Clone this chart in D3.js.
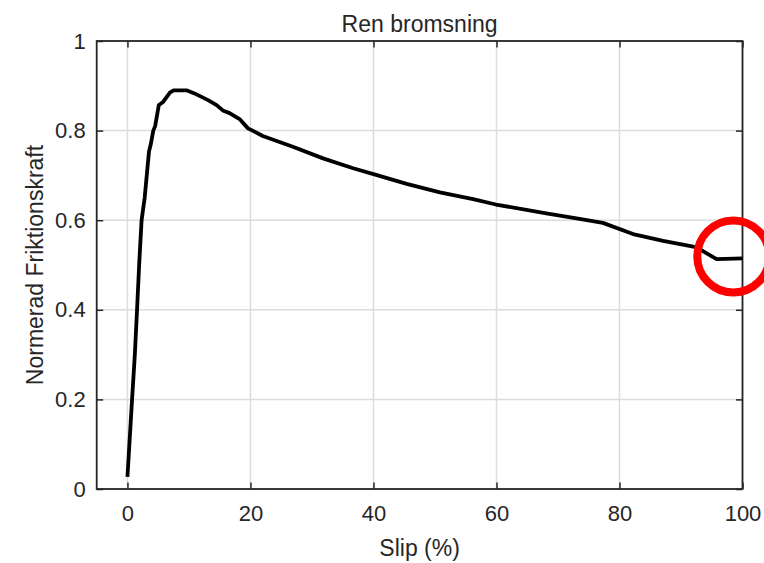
<!DOCTYPE html>
<html>
<head>
<meta charset="utf-8">
<script src="https://cdn.jsdelivr.net/npm/d3@7"></script>
<style>
  html, body { margin: 0; padding: 0; background: #fff; }
  svg { display: block; }
  text { font-family: "Liberation Sans", Arial, Helvetica, sans-serif; fill: #262626; }
</style>
</head>
<body>
<svg id="chart" width="764" height="563"></svg>
<script>
// ---- Data ----
const slip  = [0, 0.75, 1.2, 1.56, 1.9, 2.3, 2.8, 3.5, 3.8, 4.2, 4.5, 5.1, 5.8, 6.9, 7.5, 9.6, 10.9, 13.1, 14.5, 15.5, 16.6, 18.3, 19.6, 22.0, 26.9, 31.8, 36.7, 40.0, 45.4, 50.8, 56.2, 59.9, 68.1, 73.5, 77.3, 82.2, 87.1, 92.0, 93.3, 95.8, 100];
const force = [0.027, 0.2, 0.3, 0.4, 0.5, 0.6, 0.65, 0.753, 0.77, 0.80, 0.81, 0.857, 0.864, 0.885, 0.89, 0.89, 0.883, 0.868, 0.857, 0.845, 0.839, 0.825, 0.805, 0.788, 0.764, 0.738, 0.716, 0.703, 0.681, 0.662, 0.647, 0.635, 0.615, 0.603, 0.594, 0.569, 0.554, 0.541, 0.533, 0.513, 0.515];
const xTicks = [0, 20, 40, 60, 80, 100];
const yTicks = [0, 0.2, 0.4, 0.6, 0.8, 1];
const yTickLabels = ["0", "0.2", "0.4", "0.6", "0.8", "1"];
const marker = [98.5, 0.519]; // highlighted point (slip, force)
const title = "Ren bromsning";
const xLabel = "Slip (%)";
const yLabel = "Normerad Friktionskraft";

// ---- Layout ----
const L = 96.7, R = 742.5, T = 41, B = 489;
const svg = d3.select("#chart");
const x = d3.scaleLinear().domain([-5, 100]).range([L, R]);
const y = d3.scaleLinear().domain([0, 1]).range([B, T]);

const axisColor = "#262626";
const tickLen = 6.5;

// grid
const grid = svg.append("g");
grid.selectAll("line.gx").data(xTicks).join("line")
  .attr("x1", d => x(d)).attr("x2", d => x(d)).attr("y1", T).attr("y2", B)
  .attr("stroke", "#dcdcdc").attr("stroke-width", 1.5);
grid.selectAll("line.gy").data(yTicks).join("line")
  .attr("y1", d => y(d)).attr("y2", d => y(d)).attr("x1", L).attr("x2", R)
  .attr("stroke", "#dcdcdc").attr("stroke-width", 1.5);

// axes via d3 (inner ticks)
const fmtY = d => yTickLabels[yTicks.indexOf(d)];
const xAxis = svg.append("g").attr("transform", `translate(0,${B})`)
  .call(d3.axisBottom(x).tickValues(xTicks).tickSizeInner(-tickLen).tickSizeOuter(0).tickPadding(12).tickFormat(d3.format("d")));
const xAxisTop = svg.append("g").attr("transform", `translate(0,${T})`)
  .call(d3.axisTop(x).tickValues(xTicks).tickSizeInner(-tickLen).tickSizeOuter(0).tickFormat(""));
const yAxis = svg.append("g").attr("transform", `translate(${L},0)`)
  .call(d3.axisLeft(y).tickValues(yTicks).tickSizeInner(-tickLen).tickSizeOuter(0).tickPadding(11).tickFormat(fmtY));
const yAxisRight = svg.append("g").attr("transform", `translate(${R},0)`)
  .call(d3.axisRight(y).tickValues(yTicks).tickSizeInner(-tickLen).tickSizeOuter(0).tickFormat(""));

[xAxis, xAxisTop, yAxis, yAxisRight].forEach(g => {
  g.select(".domain").remove();
  g.selectAll(".tick line").attr("stroke", axisColor).attr("stroke-width", 1.5);
  g.selectAll(".tick text").attr("fill", axisColor)
    .style("font-family", '"Liberation Sans", Arial, sans-serif').style("font-size", "22px");
});
xAxis.selectAll(".tick text").attr("dy", "0.92em");

// box
svg.append("rect").attr("x", L).attr("y", T).attr("width", R - L).attr("height", B - T)
  .attr("fill", "none").attr("stroke", axisColor).attr("stroke-width", 1.8);

// data line
const pts = slip.map((s, i) => [s, force[i]]);
svg.append("path").datum(pts)
  .attr("fill", "none").attr("stroke", "#000").attr("stroke-width", 3.8)
  .attr("stroke-linejoin", "round").attr("stroke-linecap", "butt")
  .attr("d", d3.line().x(d => x(d[0])).y(d => y(d[1])));

// red circle marker
svg.append("circle").attr("cx", x(marker[0])).attr("cy", y(marker[1])).attr("r", 36)
  .attr("fill", "none").attr("stroke", "#ff0000").attr("stroke-width", 8);

// labels
svg.append("text").attr("x", (L + R) / 2).attr("y", 32).attr("text-anchor", "middle")
  .style("font-size", "23px").attr("fill", "#000").text(title);
svg.append("text").attr("x", (L + R) / 2).attr("y", 556).attr("text-anchor", "middle")
  .style("font-size", "23px").text(xLabel);
svg.append("text").attr("transform", `translate(43,${(T + B) / 2}) rotate(-90)`).attr("text-anchor", "middle")
  .style("font-size", "23px").text(yLabel);
</script>
</body>
</html>
